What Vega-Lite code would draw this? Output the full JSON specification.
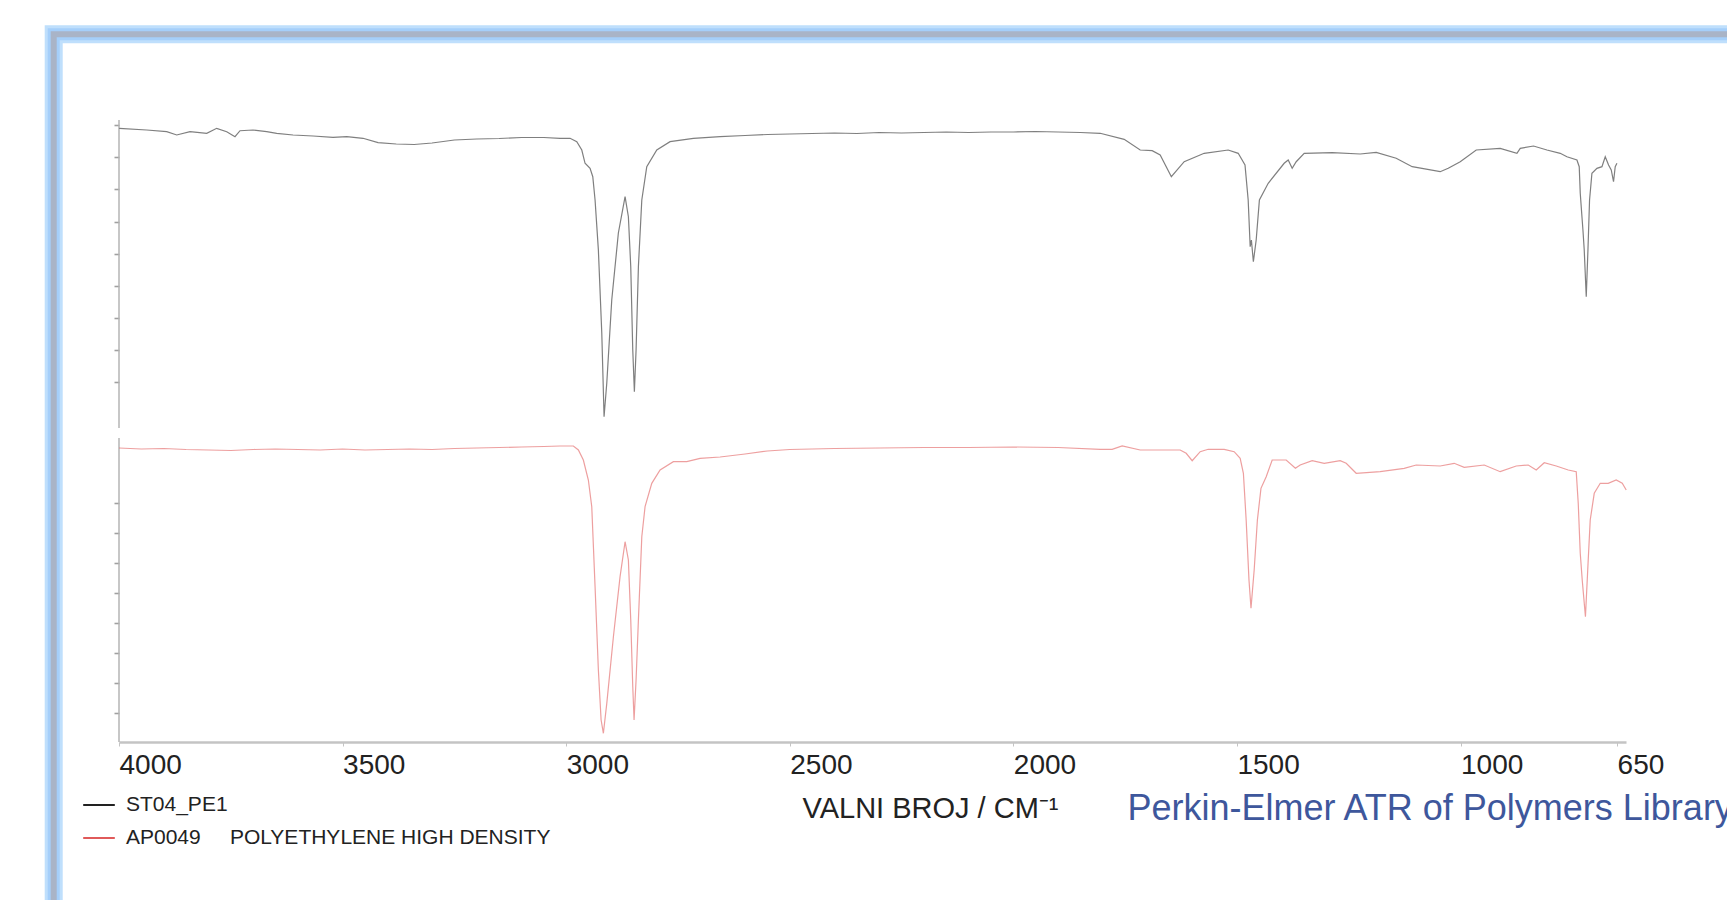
{
  "$schema": "https://vega.github.io/schema/vega-lite/v6.json",
  "width": 1507,
  "height": 622,
  "autosize": {"type": "none"},
  "padding": {"left": 119, "top": 120, "right": 101, "bottom": 158},
  "background": "white",
  "config": {"font": "Liberation Sans", "view": {"stroke": null}, "axis": {"labelOverlap": false}},
  "datasets": {
    "spectra": [
      {"series": "ST04_PE1", "wn": 3999.3, "t": 202.26},
      {"series": "ST04_PE1", "wn": 3938.0, "t": 201.70},
      {"series": "ST04_PE1", "wn": 3893.3, "t": 201.14},
      {"series": "ST04_PE1", "wn": 3870.9, "t": 200.06},
      {"series": "ST04_PE1", "wn": 3841.2, "t": 201.14},
      {"series": "ST04_PE1", "wn": 3803.8, "t": 200.62},
      {"series": "ST04_PE1", "wn": 3781.5, "t": 202.26},
      {"series": "ST04_PE1", "wn": 3759.1, "t": 201.14},
      {"series": "ST04_PE1", "wn": 3740.6, "t": 199.49},
      {"series": "ST04_PE1", "wn": 3729.4, "t": 201.47},
      {"series": "ST04_PE1", "wn": 3700.3, "t": 201.70},
      {"series": "ST04_PE1", "wn": 3669.7, "t": 201.14},
      {"series": "ST04_PE1", "wn": 3647.3, "t": 200.62},
      {"series": "ST04_PE1", "wn": 3610.8, "t": 200.06},
      {"series": "ST04_PE1", "wn": 3566.1, "t": 199.73},
      {"series": "ST04_PE1", "wn": 3521.4, "t": 199.30},
      {"series": "ST04_PE1", "wn": 3490.7, "t": 199.49},
      {"series": "ST04_PE1", "wn": 3454.3, "t": 198.97},
      {"series": "ST04_PE1", "wn": 3420.7, "t": 197.52},
      {"series": "ST04_PE1", "wn": 3380, "t": 197.09},
      {"series": "ST04_PE1", "wn": 3340, "t": 196.92},
      {"series": "ST04_PE1", "wn": 3300, "t": 197.42},
      {"series": "ST04_PE1", "wn": 3250, "t": 198.41},
      {"series": "ST04_PE1", "wn": 3200, "t": 198.74},
      {"series": "ST04_PE1", "wn": 3150, "t": 198.90},
      {"series": "ST04_PE1", "wn": 3100, "t": 199.23},
      {"series": "ST04_PE1", "wn": 3050, "t": 199.23},
      {"series": "ST04_PE1", "wn": 3013.7, "t": 198.97},
      {"series": "ST04_PE1", "wn": 2991.3, "t": 198.97},
      {"series": "ST04_PE1", "wn": 2976.3, "t": 197.85},
      {"series": "ST04_PE1", "wn": 2965.1, "t": 195.11},
      {"series": "ST04_PE1", "wn": 2957.8, "t": 190.73},
      {"series": "ST04_PE1", "wn": 2946.6, "t": 189.08},
      {"series": "ST04_PE1", "wn": 2940.5, "t": 186.31},
      {"series": "ST04_PE1", "wn": 2935.4, "t": 178.63},
      {"series": "ST04_PE1", "wn": 2928.0, "t": 162.15},
      {"series": "ST04_PE1", "wn": 2920.4, "t": 134.80},
      {"series": "ST04_PE1", "wn": 2915.3, "t": 107.21},
      {"series": "ST04_PE1", "wn": 2909.2, "t": 118.32},
      {"series": "ST04_PE1", "wn": 2898.1, "t": 145.67},
      {"series": "ST04_PE1", "wn": 2883.3, "t": 167.76},
      {"series": "ST04_PE1", "wn": 2868.3, "t": 179.72},
      {"series": "ST04_PE1", "wn": 2860.9, "t": 173.13},
      {"series": "ST04_PE1", "wn": 2855.6, "t": 156.65},
      {"series": "ST04_PE1", "wn": 2851.1, "t": 129.20},
      {"series": "ST04_PE1", "wn": 2847.5, "t": 115.45},
      {"series": "ST04_PE1", "wn": 2843.7, "t": 129.20},
      {"series": "ST04_PE1", "wn": 2838.5, "t": 156.65},
      {"series": "ST04_PE1", "wn": 2830.9, "t": 178.63},
      {"series": "ST04_PE1", "wn": 2819.8, "t": 189.61},
      {"series": "ST04_PE1", "wn": 2797.4, "t": 195.11},
      {"series": "ST04_PE1", "wn": 2767.7, "t": 197.85},
      {"series": "ST04_PE1", "wn": 2715.5, "t": 198.97},
      {"series": "ST04_PE1", "wn": 2655.8, "t": 199.49},
      {"series": "ST04_PE1", "wn": 2600, "t": 199.89},
      {"series": "ST04_PE1", "wn": 2550, "t": 200.22},
      {"series": "ST04_PE1", "wn": 2500, "t": 200.38},
      {"series": "ST04_PE1", "wn": 2450, "t": 200.55},
      {"series": "ST04_PE1", "wn": 2400, "t": 200.71},
      {"series": "ST04_PE1", "wn": 2350, "t": 200.55},
      {"series": "ST04_PE1", "wn": 2300, "t": 200.88},
      {"series": "ST04_PE1", "wn": 2250, "t": 200.71},
      {"series": "ST04_PE1", "wn": 2200, "t": 200.88},
      {"series": "ST04_PE1", "wn": 2150, "t": 201.04},
      {"series": "ST04_PE1", "wn": 2100, "t": 200.88},
      {"series": "ST04_PE1", "wn": 2050, "t": 201.04},
      {"series": "ST04_PE1", "wn": 2000, "t": 201.04},
      {"series": "ST04_PE1", "wn": 1950, "t": 201.21},
      {"series": "ST04_PE1", "wn": 1900, "t": 201.04},
      {"series": "ST04_PE1", "wn": 1850, "t": 200.88},
      {"series": "ST04_PE1", "wn": 1805.9, "t": 200.62},
      {"series": "ST04_PE1", "wn": 1752.2, "t": 198.64},
      {"series": "ST04_PE1", "wn": 1716.4, "t": 195.11},
      {"series": "ST04_PE1", "wn": 1689.6, "t": 194.88},
      {"series": "ST04_PE1", "wn": 1671.7, "t": 193.46},
      {"series": "ST04_PE1", "wn": 1646.7, "t": 186.31},
      {"series": "ST04_PE1", "wn": 1618.0, "t": 191.25},
      {"series": "ST04_PE1", "wn": 1573.3, "t": 194.02},
      {"series": "ST04_PE1", "wn": 1519.6, "t": 195.11},
      {"series": "ST04_PE1", "wn": 1497.2, "t": 194.02},
      {"series": "ST04_PE1", "wn": 1482.0, "t": 190.17},
      {"series": "ST04_PE1", "wn": 1474.9, "t": 178.63},
      {"series": "ST04_PE1", "wn": 1470.4, "t": 163.24},
      {"series": "ST04_PE1", "wn": 1467.7, "t": 165.45},
      {"series": "ST04_PE1", "wn": 1463.3, "t": 158.30},
      {"series": "ST04_PE1", "wn": 1457.0, "t": 165.45},
      {"series": "ST04_PE1", "wn": 1449.8, "t": 178.63},
      {"series": "ST04_PE1", "wn": 1430.1, "t": 184.14},
      {"series": "ST04_PE1", "wn": 1394.4, "t": 190.73},
      {"series": "ST04_PE1", "wn": 1385.4, "t": 191.82},
      {"series": "ST04_PE1", "wn": 1376.5, "t": 189.08},
      {"series": "ST04_PE1", "wn": 1367.5, "t": 191.25},
      {"series": "ST04_PE1", "wn": 1349.6, "t": 194.02},
      {"series": "ST04_PE1", "wn": 1287.0, "t": 194.22},
      {"series": "ST04_PE1", "wn": 1224.4, "t": 193.79},
      {"series": "ST04_PE1", "wn": 1188.6, "t": 194.35},
      {"series": "ST04_PE1", "wn": 1143.9, "t": 192.38},
      {"series": "ST04_PE1", "wn": 1108.1, "t": 189.61},
      {"series": "ST04_PE1", "wn": 1045.5, "t": 187.96},
      {"series": "ST04_PE1", "wn": 1027.5, "t": 189.08},
      {"series": "ST04_PE1", "wn": 1000.7, "t": 191.25},
      {"series": "ST04_PE1", "wn": 964.9, "t": 195.11},
      {"series": "ST04_PE1", "wn": 911.3, "t": 195.67},
      {"series": "ST04_PE1", "wn": 873.9, "t": 194.02},
      {"series": "ST04_PE1", "wn": 866.5, "t": 195.67},
      {"series": "ST04_PE1", "wn": 836.8, "t": 196.43},
      {"series": "ST04_PE1", "wn": 806.8, "t": 195.11},
      {"series": "ST04_PE1", "wn": 777.1, "t": 194.02},
      {"series": "ST04_PE1", "wn": 762.1, "t": 192.90},
      {"series": "ST04_PE1", "wn": 739.7, "t": 191.82},
      {"series": "ST04_PE1", "wn": 734.6, "t": 189.61},
      {"series": "ST04_PE1", "wn": 732.3, "t": 180.84},
      {"series": "ST04_PE1", "wn": 728.5, "t": 173.13},
      {"series": "ST04_PE1", "wn": 726.3, "t": 168.74},
      {"series": "ST04_PE1", "wn": 723.4, "t": 162.15},
      {"series": "ST04_PE1", "wn": 718.9, "t": 146.76},
      {"series": "ST04_PE1", "wn": 715.1, "t": 162.15},
      {"series": "ST04_PE1", "wn": 711.5, "t": 178.63},
      {"series": "ST04_PE1", "wn": 706.2, "t": 187.43},
      {"series": "ST04_PE1", "wn": 695.0, "t": 189.08},
      {"series": "ST04_PE1", "wn": 683.8, "t": 189.61},
      {"series": "ST04_PE1", "wn": 676.4, "t": 192.90},
      {"series": "ST04_PE1", "wn": 669.0, "t": 190.17},
      {"series": "ST04_PE1", "wn": 663.0, "t": 188.52},
      {"series": "ST04_PE1", "wn": 657.9, "t": 184.66},
      {"series": "ST04_PE1", "wn": 654.1, "t": 189.61},
      {"series": "ST04_PE1", "wn": 650.3, "t": 190.73},

      {"series": "AP0049\u00a0\u00a0\u00a0\u00a0\u00a0POLYETHYLENE HIGH DENSITY", "wn": 4000, "t": 96.90},
      {"series": "AP0049\u00a0\u00a0\u00a0\u00a0\u00a0POLYETHYLENE HIGH DENSITY", "wn": 3950, "t": 96.57},
      {"series": "AP0049\u00a0\u00a0\u00a0\u00a0\u00a0POLYETHYLENE HIGH DENSITY", "wn": 3900, "t": 96.73},
      {"series": "AP0049\u00a0\u00a0\u00a0\u00a0\u00a0POLYETHYLENE HIGH DENSITY", "wn": 3850, "t": 96.40},
      {"series": "AP0049\u00a0\u00a0\u00a0\u00a0\u00a0POLYETHYLENE HIGH DENSITY", "wn": 3800, "t": 96.24},
      {"series": "AP0049\u00a0\u00a0\u00a0\u00a0\u00a0POLYETHYLENE HIGH DENSITY", "wn": 3750, "t": 96.07},
      {"series": "AP0049\u00a0\u00a0\u00a0\u00a0\u00a0POLYETHYLENE HIGH DENSITY", "wn": 3700, "t": 96.40},
      {"series": "AP0049\u00a0\u00a0\u00a0\u00a0\u00a0POLYETHYLENE HIGH DENSITY", "wn": 3650, "t": 96.57},
      {"series": "AP0049\u00a0\u00a0\u00a0\u00a0\u00a0POLYETHYLENE HIGH DENSITY", "wn": 3600, "t": 96.40},
      {"series": "AP0049\u00a0\u00a0\u00a0\u00a0\u00a0POLYETHYLENE HIGH DENSITY", "wn": 3550, "t": 96.24},
      {"series": "AP0049\u00a0\u00a0\u00a0\u00a0\u00a0POLYETHYLENE HIGH DENSITY", "wn": 3500, "t": 96.57},
      {"series": "AP0049\u00a0\u00a0\u00a0\u00a0\u00a0POLYETHYLENE HIGH DENSITY", "wn": 3450, "t": 96.24},
      {"series": "AP0049\u00a0\u00a0\u00a0\u00a0\u00a0POLYETHYLENE HIGH DENSITY", "wn": 3400, "t": 96.40},
      {"series": "AP0049\u00a0\u00a0\u00a0\u00a0\u00a0POLYETHYLENE HIGH DENSITY", "wn": 3350, "t": 96.57},
      {"series": "AP0049\u00a0\u00a0\u00a0\u00a0\u00a0POLYETHYLENE HIGH DENSITY", "wn": 3300, "t": 96.40},
      {"series": "AP0049\u00a0\u00a0\u00a0\u00a0\u00a0POLYETHYLENE HIGH DENSITY", "wn": 3250, "t": 96.73},
      {"series": "AP0049\u00a0\u00a0\u00a0\u00a0\u00a0POLYETHYLENE HIGH DENSITY", "wn": 3200, "t": 96.90},
      {"series": "AP0049\u00a0\u00a0\u00a0\u00a0\u00a0POLYETHYLENE HIGH DENSITY", "wn": 3150, "t": 97.06},
      {"series": "AP0049\u00a0\u00a0\u00a0\u00a0\u00a0POLYETHYLENE HIGH DENSITY", "wn": 3100, "t": 97.23},
      {"series": "AP0049\u00a0\u00a0\u00a0\u00a0\u00a0POLYETHYLENE HIGH DENSITY", "wn": 3050, "t": 97.39},
      {"series": "AP0049\u00a0\u00a0\u00a0\u00a0\u00a0POLYETHYLENE HIGH DENSITY", "wn": 3013.7, "t": 97.56},
      {"series": "AP0049\u00a0\u00a0\u00a0\u00a0\u00a0POLYETHYLENE HIGH DENSITY", "wn": 2983.9, "t": 97.56},
      {"series": "AP0049\u00a0\u00a0\u00a0\u00a0\u00a0POLYETHYLENE HIGH DENSITY", "wn": 2972.7, "t": 96.24},
      {"series": "AP0049\u00a0\u00a0\u00a0\u00a0\u00a0POLYETHYLENE HIGH DENSITY", "wn": 2961.6, "t": 92.94},
      {"series": "AP0049\u00a0\u00a0\u00a0\u00a0\u00a0POLYETHYLENE HIGH DENSITY", "wn": 2950.4, "t": 86.35},
      {"series": "AP0049\u00a0\u00a0\u00a0\u00a0\u00a0POLYETHYLENE HIGH DENSITY", "wn": 2942.8, "t": 77.55},
      {"series": "AP0049\u00a0\u00a0\u00a0\u00a0\u00a0POLYETHYLENE HIGH DENSITY", "wn": 2935.4, "t": 51.18},
      {"series": "AP0049\u00a0\u00a0\u00a0\u00a0\u00a0POLYETHYLENE HIGH DENSITY", "wn": 2928.0, "t": 23.73},
      {"series": "AP0049\u00a0\u00a0\u00a0\u00a0\u00a0POLYETHYLENE HIGH DENSITY", "wn": 2921.9, "t": 7.25},
      {"series": "AP0049\u00a0\u00a0\u00a0\u00a0\u00a0POLYETHYLENE HIGH DENSITY", "wn": 2916.8, "t": 2.87},
      {"series": "AP0049\u00a0\u00a0\u00a0\u00a0\u00a0POLYETHYLENE HIGH DENSITY", "wn": 2909.2, "t": 12.75},
      {"series": "AP0049\u00a0\u00a0\u00a0\u00a0\u00a0POLYETHYLENE HIGH DENSITY", "wn": 2894.4, "t": 34.70},
      {"series": "AP0049\u00a0\u00a0\u00a0\u00a0\u00a0POLYETHYLENE HIGH DENSITY", "wn": 2879.5, "t": 54.48},
      {"series": "AP0049\u00a0\u00a0\u00a0\u00a0\u00a0POLYETHYLENE HIGH DENSITY", "wn": 2868.3, "t": 66.01},
      {"series": "AP0049\u00a0\u00a0\u00a0\u00a0\u00a0POLYETHYLENE HIGH DENSITY", "wn": 2860.9, "t": 59.98},
      {"series": "AP0049\u00a0\u00a0\u00a0\u00a0\u00a0POLYETHYLENE HIGH DENSITY", "wn": 2855.6, "t": 40.21},
      {"series": "AP0049\u00a0\u00a0\u00a0\u00a0\u00a0POLYETHYLENE HIGH DENSITY", "wn": 2851.1, "t": 18.23},
      {"series": "AP0049\u00a0\u00a0\u00a0\u00a0\u00a0POLYETHYLENE HIGH DENSITY", "wn": 2848.2, "t": 7.25},
      {"series": "AP0049\u00a0\u00a0\u00a0\u00a0\u00a0POLYETHYLENE HIGH DENSITY", "wn": 2843.7, "t": 20.43},
      {"series": "AP0049\u00a0\u00a0\u00a0\u00a0\u00a0POLYETHYLENE HIGH DENSITY", "wn": 2838.5, "t": 40.21},
      {"series": "AP0049\u00a0\u00a0\u00a0\u00a0\u00a0POLYETHYLENE HIGH DENSITY", "wn": 2830.9, "t": 67.66},
      {"series": "AP0049\u00a0\u00a0\u00a0\u00a0\u00a0POLYETHYLENE HIGH DENSITY", "wn": 2823.6, "t": 77.55},
      {"series": "AP0049\u00a0\u00a0\u00a0\u00a0\u00a0POLYETHYLENE HIGH DENSITY", "wn": 2808.6, "t": 85.26},
      {"series": "AP0049\u00a0\u00a0\u00a0\u00a0\u00a0POLYETHYLENE HIGH DENSITY", "wn": 2790.0, "t": 89.65},
      {"series": "AP0049\u00a0\u00a0\u00a0\u00a0\u00a0POLYETHYLENE HIGH DENSITY", "wn": 2760.3, "t": 92.38},
      {"series": "AP0049\u00a0\u00a0\u00a0\u00a0\u00a0POLYETHYLENE HIGH DENSITY", "wn": 2730.3, "t": 92.38},
      {"series": "AP0049\u00a0\u00a0\u00a0\u00a0\u00a0POLYETHYLENE HIGH DENSITY", "wn": 2700.6, "t": 93.50},
      {"series": "AP0049\u00a0\u00a0\u00a0\u00a0\u00a0POLYETHYLENE HIGH DENSITY", "wn": 2655.8, "t": 93.93},
      {"series": "AP0049\u00a0\u00a0\u00a0\u00a0\u00a0POLYETHYLENE HIGH DENSITY", "wn": 2600, "t": 94.92},
      {"series": "AP0049\u00a0\u00a0\u00a0\u00a0\u00a0POLYETHYLENE HIGH DENSITY", "wn": 2550, "t": 95.91},
      {"series": "AP0049\u00a0\u00a0\u00a0\u00a0\u00a0POLYETHYLENE HIGH DENSITY", "wn": 2500, "t": 96.40},
      {"series": "AP0049\u00a0\u00a0\u00a0\u00a0\u00a0POLYETHYLENE HIGH DENSITY", "wn": 2400, "t": 96.73},
      {"series": "AP0049\u00a0\u00a0\u00a0\u00a0\u00a0POLYETHYLENE HIGH DENSITY", "wn": 2300, "t": 96.90},
      {"series": "AP0049\u00a0\u00a0\u00a0\u00a0\u00a0POLYETHYLENE HIGH DENSITY", "wn": 2200, "t": 97.06},
      {"series": "AP0049\u00a0\u00a0\u00a0\u00a0\u00a0POLYETHYLENE HIGH DENSITY", "wn": 2100, "t": 97.06},
      {"series": "AP0049\u00a0\u00a0\u00a0\u00a0\u00a0POLYETHYLENE HIGH DENSITY", "wn": 2000, "t": 97.23},
      {"series": "AP0049\u00a0\u00a0\u00a0\u00a0\u00a0POLYETHYLENE HIGH DENSITY", "wn": 1900, "t": 97.06},
      {"series": "AP0049\u00a0\u00a0\u00a0\u00a0\u00a0POLYETHYLENE HIGH DENSITY", "wn": 1805.9, "t": 96.47},
      {"series": "AP0049\u00a0\u00a0\u00a0\u00a0\u00a0POLYETHYLENE HIGH DENSITY", "wn": 1779.1, "t": 96.47},
      {"series": "AP0049\u00a0\u00a0\u00a0\u00a0\u00a0POLYETHYLENE HIGH DENSITY", "wn": 1756.7, "t": 97.56},
      {"series": "AP0049\u00a0\u00a0\u00a0\u00a0\u00a0POLYETHYLENE HIGH DENSITY", "wn": 1716.4, "t": 96.24},
      {"series": "AP0049\u00a0\u00a0\u00a0\u00a0\u00a0POLYETHYLENE HIGH DENSITY", "wn": 1671.7, "t": 96.24},
      {"series": "AP0049\u00a0\u00a0\u00a0\u00a0\u00a0POLYETHYLENE HIGH DENSITY", "wn": 1627.0, "t": 96.24},
      {"series": "AP0049\u00a0\u00a0\u00a0\u00a0\u00a0POLYETHYLENE HIGH DENSITY", "wn": 1613.5, "t": 95.15},
      {"series": "AP0049\u00a0\u00a0\u00a0\u00a0\u00a0POLYETHYLENE HIGH DENSITY", "wn": 1600.1, "t": 92.71},
      {"series": "AP0049\u00a0\u00a0\u00a0\u00a0\u00a0POLYETHYLENE HIGH DENSITY", "wn": 1582.2, "t": 95.68},
      {"series": "AP0049\u00a0\u00a0\u00a0\u00a0\u00a0POLYETHYLENE HIGH DENSITY", "wn": 1564.3, "t": 96.47},
      {"series": "AP0049\u00a0\u00a0\u00a0\u00a0\u00a0POLYETHYLENE HIGH DENSITY", "wn": 1528.6, "t": 96.47},
      {"series": "AP0049\u00a0\u00a0\u00a0\u00a0\u00a0POLYETHYLENE HIGH DENSITY", "wn": 1506.2, "t": 95.68},
      {"series": "AP0049\u00a0\u00a0\u00a0\u00a0\u00a0POLYETHYLENE HIGH DENSITY", "wn": 1492.8, "t": 93.50},
      {"series": "AP0049\u00a0\u00a0\u00a0\u00a0\u00a0POLYETHYLENE HIGH DENSITY", "wn": 1485.6, "t": 88.56},
      {"series": "AP0049\u00a0\u00a0\u00a0\u00a0\u00a0POLYETHYLENE HIGH DENSITY", "wn": 1479.4, "t": 73.17},
      {"series": "AP0049\u00a0\u00a0\u00a0\u00a0\u00a0POLYETHYLENE HIGH DENSITY", "wn": 1473.1, "t": 53.39},
      {"series": "AP0049\u00a0\u00a0\u00a0\u00a0\u00a0POLYETHYLENE HIGH DENSITY", "wn": 1468.6, "t": 44.06},
      {"series": "AP0049\u00a0\u00a0\u00a0\u00a0\u00a0POLYETHYLENE HIGH DENSITY", "wn": 1461.5, "t": 56.69},
      {"series": "AP0049\u00a0\u00a0\u00a0\u00a0\u00a0POLYETHYLENE HIGH DENSITY", "wn": 1454.3, "t": 73.17},
      {"series": "AP0049\u00a0\u00a0\u00a0\u00a0\u00a0POLYETHYLENE HIGH DENSITY", "wn": 1446.3, "t": 83.61},
      {"series": "AP0049\u00a0\u00a0\u00a0\u00a0\u00a0POLYETHYLENE HIGH DENSITY", "wn": 1434.6, "t": 87.44},
      {"series": "AP0049\u00a0\u00a0\u00a0\u00a0\u00a0POLYETHYLENE HIGH DENSITY", "wn": 1421.2, "t": 92.94},
      {"series": "AP0049\u00a0\u00a0\u00a0\u00a0\u00a0POLYETHYLENE HIGH DENSITY", "wn": 1389.9, "t": 92.94},
      {"series": "AP0049\u00a0\u00a0\u00a0\u00a0\u00a0POLYETHYLENE HIGH DENSITY", "wn": 1369.3, "t": 90.21},
      {"series": "AP0049\u00a0\u00a0\u00a0\u00a0\u00a0POLYETHYLENE HIGH DENSITY", "wn": 1358.6, "t": 91.29},
      {"series": "AP0049\u00a0\u00a0\u00a0\u00a0\u00a0POLYETHYLENE HIGH DENSITY", "wn": 1331.8, "t": 92.71},
      {"series": "AP0049\u00a0\u00a0\u00a0\u00a0\u00a0POLYETHYLENE HIGH DENSITY", "wn": 1304.9, "t": 91.85},
      {"series": "AP0049\u00a0\u00a0\u00a0\u00a0\u00a0POLYETHYLENE HIGH DENSITY", "wn": 1269.1, "t": 92.71},
      {"series": "AP0049\u00a0\u00a0\u00a0\u00a0\u00a0POLYETHYLENE HIGH DENSITY", "wn": 1255.7, "t": 91.85},
      {"series": "AP0049\u00a0\u00a0\u00a0\u00a0\u00a0POLYETHYLENE HIGH DENSITY", "wn": 1233.3, "t": 88.56},
      {"series": "AP0049\u00a0\u00a0\u00a0\u00a0\u00a0POLYETHYLENE HIGH DENSITY", "wn": 1179.7, "t": 89.09},
      {"series": "AP0049\u00a0\u00a0\u00a0\u00a0\u00a0POLYETHYLENE HIGH DENSITY", "wn": 1126.0, "t": 90.21},
      {"series": "AP0049\u00a0\u00a0\u00a0\u00a0\u00a0POLYETHYLENE HIGH DENSITY", "wn": 1099.2, "t": 91.29},
      {"series": "AP0049\u00a0\u00a0\u00a0\u00a0\u00a0POLYETHYLENE HIGH DENSITY", "wn": 1045.5, "t": 90.96},
      {"series": "AP0049\u00a0\u00a0\u00a0\u00a0\u00a0POLYETHYLENE HIGH DENSITY", "wn": 1014.2, "t": 91.85},
      {"series": "AP0049\u00a0\u00a0\u00a0\u00a0\u00a0POLYETHYLENE HIGH DENSITY", "wn": 991.8, "t": 90.54},
      {"series": "AP0049\u00a0\u00a0\u00a0\u00a0\u00a0POLYETHYLENE HIGH DENSITY", "wn": 947.0, "t": 91.29},
      {"series": "AP0049\u00a0\u00a0\u00a0\u00a0\u00a0POLYETHYLENE HIGH DENSITY", "wn": 911.3, "t": 89.09},
      {"series": "AP0049\u00a0\u00a0\u00a0\u00a0\u00a0POLYETHYLENE HIGH DENSITY", "wn": 875.5, "t": 90.96},
      {"series": "AP0049\u00a0\u00a0\u00a0\u00a0\u00a0POLYETHYLENE HIGH DENSITY", "wn": 848.6, "t": 91.29},
      {"series": "AP0049\u00a0\u00a0\u00a0\u00a0\u00a0POLYETHYLENE HIGH DENSITY", "wn": 830.8, "t": 89.65},
      {"series": "AP0049\u00a0\u00a0\u00a0\u00a0\u00a0POLYETHYLENE HIGH DENSITY", "wn": 812.8, "t": 92.05},
      {"series": "AP0049\u00a0\u00a0\u00a0\u00a0\u00a0POLYETHYLENE HIGH DENSITY", "wn": 786.0, "t": 90.96},
      {"series": "AP0049\u00a0\u00a0\u00a0\u00a0\u00a0POLYETHYLENE HIGH DENSITY", "wn": 759.2, "t": 89.65},
      {"series": "AP0049\u00a0\u00a0\u00a0\u00a0\u00a0POLYETHYLENE HIGH DENSITY", "wn": 741.3, "t": 89.09},
      {"series": "AP0049\u00a0\u00a0\u00a0\u00a0\u00a0POLYETHYLENE HIGH DENSITY", "wn": 736.8, "t": 78.67},
      {"series": "AP0049\u00a0\u00a0\u00a0\u00a0\u00a0POLYETHYLENE HIGH DENSITY", "wn": 732.3, "t": 62.19},
      {"series": "AP0049\u00a0\u00a0\u00a0\u00a0\u00a0POLYETHYLENE HIGH DENSITY", "wn": 727.9, "t": 53.39},
      {"series": "AP0049\u00a0\u00a0\u00a0\u00a0\u00a0POLYETHYLENE HIGH DENSITY", "wn": 720.7, "t": 41.30},
      {"series": "AP0049\u00a0\u00a0\u00a0\u00a0\u00a0POLYETHYLENE HIGH DENSITY", "wn": 714.5, "t": 59.98},
      {"series": "AP0049\u00a0\u00a0\u00a0\u00a0\u00a0POLYETHYLENE HIGH DENSITY", "wn": 710.0, "t": 73.17},
      {"series": "AP0049\u00a0\u00a0\u00a0\u00a0\u00a0POLYETHYLENE HIGH DENSITY", "wn": 701.0, "t": 81.97},
      {"series": "AP0049\u00a0\u00a0\u00a0\u00a0\u00a0POLYETHYLENE HIGH DENSITY", "wn": 687.6, "t": 85.26},
      {"series": "AP0049\u00a0\u00a0\u00a0\u00a0\u00a0POLYETHYLENE HIGH DENSITY", "wn": 669.8, "t": 85.26},
      {"series": "AP0049\u00a0\u00a0\u00a0\u00a0\u00a0POLYETHYLENE HIGH DENSITY", "wn": 651.9, "t": 86.35},
      {"series": "AP0049\u00a0\u00a0\u00a0\u00a0\u00a0POLYETHYLENE HIGH DENSITY", "wn": 638.4, "t": 85.26},
      {"series": "AP0049\u00a0\u00a0\u00a0\u00a0\u00a0POLYETHYLENE HIGH DENSITY", "wn": 629.5, "t": 83.05}
    ]
  },
  "layer": [
    {
      "data": {"values": [{}]},
      "mark": {"type": "rect", "fillOpacity": 0, "stroke": "#bfdffc", "strokeWidth": 18, "clip": false},
      "encoding": {
        "x": {"datum": 4146},
        "x2": {"datum": 0},
        "y": {"datum": 233.3},
        "y2": {"datum": -120}
      }
    },
    {
      "data": {"values": [{}]},
      "mark": {"type": "rect", "fillOpacity": 0, "stroke": "#a5cffa", "strokeWidth": 12, "clip": false},
      "encoding": {
        "x": {"datum": 4146},
        "x2": {"datum": 0},
        "y": {"datum": 233.3},
        "y2": {"datum": -120}
      }
    },
    {
      "data": {"values": [{}]},
      "mark": {"type": "rect", "fillOpacity": 0, "stroke": "#a9b4c7", "strokeWidth": 6, "clip": false},
      "encoding": {
        "x": {"datum": 4146},
        "x2": {"datum": 0},
        "y": {"datum": 233.3},
        "y2": {"datum": -120}
      }
    },
    {
      "data": {"values": [{}]},
      "mark": {"type": "rule", "color": "#b5b5b5", "strokeWidth": 1.5},
      "encoding": {
        "x": {"datum": 4000},
        "y": {"datum": 103.5},
        "y2": {"datum": 205}
      }
    },
    {
      "data": {"values": [{}]},
      "mark": {"type": "rule", "color": "#b5b5b5", "strokeWidth": 1.5},
      "encoding": {
        "x": {"datum": 4000},
        "y": {"datum": 0},
        "y2": {"datum": 100.2}
      }
    },
    {
      "data": {"name": "spectra"},
      "mark": {"type": "line", "strokeWidth": 1.2, "opacity": 0.58},
      "encoding": {
        "x": {
          "field": "wn",
          "type": "quantitative",
          "scale": {"domain": [630, 4000], "reverse": true, "nice": false, "zero": false},
          "axis": {
            "values": [4000, 3500, 3000, 2500, 2000, 1500, 1000, 650],
            "tickCount": 20,
            "format": "d",
            "grid": false,
            "labelAlign": "left",
            "labelDx": -12,
            "labelBaseline": "alphabetic",
            "labelPadding": 27,
            "labelFontSize": 28,
            "labelColor": "#222222",
            "labelFlush": false,
            "labelOverlap": false,
            "labelBound": false,
            "tickSize": 4,
            "tickColor": "#c4c4c4",
            "domainColor": "#c4c4c4",
            "domainWidth": 2.5,
            "title": "VALNI BROJ / CM⁻¹",
            "titleFontSize": 29,
            "titleFontWeight": "normal",
            "titleColor": "#222222",
            "titleAlign": "left",
            "titleBaseline": "alphabetic",
            "titleX": 683,
            "titleY": 75
          }
        },
        "y": {
          "field": "t",
          "type": "quantitative",
          "scale": {"domain": [0, 205], "nice": false, "zero": false},
          "axis": {
            "values": [203.35, 192.71, 182.16, 171.48, 160.93, 150.29, 139.74, 129.2, 118.55, 78.67, 68.78, 58.9, 49.01, 39.12, 29.23, 19.35, 9.46],
            "tickCount": 50,
            "domain": false,
            "labels": false,
            "labelOverlap": false,
            "grid": false,
            "title": null,
            "tickSize": 5,
            "tickWidth": 1.6,
            "tickRound": true,
            "tickColor": "#a0a0a0"
          }
        },
        "color": {
          "field": "series",
          "type": "nominal",
          "scale": {
            "domain": ["ST04_PE1", "AP0049\u00a0\u00a0\u00a0\u00a0\u00a0POLYETHYLENE HIGH DENSITY"],
            "range": ["#222222", "#e05a5a"]
          },
          "legend": {
            "title": null,
            "orient": "none",
            "legendX": -37,
            "legendY": 668,
            "padding": 0,
            "symbolType": "stroke",
            "symbolSize": 1000,
            "symbolStrokeWidth": 2,
            "symbolOpacity": 1,
            "labelFontSize": 21,
            "labelColor": "#222222",
            "labelOffset": 10,
            "labelLimit": 0,
            "rowPadding": 6
          }
        }
      }
    },
    {
      "data": {"values": [{"label": "Perkin-Elmer ATR of Polymers Library"}]},
      "mark": {"type": "text", "align": "left", "baseline": "alphabetic", "fontSize": 36, "color": "#3e579c", "clip": false},
      "encoding": {
        "x": {"datum": 1745},
        "y": {"datum": -25.7},
        "text": {"field": "label"}
      }
    }
  ]
}
